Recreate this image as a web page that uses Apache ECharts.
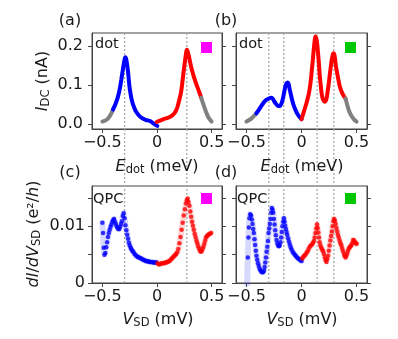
<!DOCTYPE html>
<html><head><meta charset="utf-8">
<script src="https://cdn.jsdelivr.net/npm/echarts@6/dist/echarts.min.js"></script>
<style>html,body{margin:0;padding:0;background:#fff}#c{width:398px;height:339px}</style>
</head><body><div id="c"></div>
<script>
// ---- data ----
const xTicks = [-0.5, 0, 0.5];
const yTicksDot = [0, 0.1, 0.2];
const yLabelsQpc = [0, 0.01];
const yTicksQpc = [0, 0.005, 0.01, 0.015];
const dashA = [-0.297, 0.273];
const dashB = [-0.297, -0.161, 0.142, 0.294];

// (a) dot current, magenta
const aGrayL = [[-0.5,0.007],[-0.479,0.009],[-0.448,0.015],[-0.418,0.028],[-0.403,0.038]];
const aBlue = [[-0.403,0.038],[-0.38,0.052],[-0.357,0.071],[-0.34,0.092],[-0.327,0.114],[-0.31,0.145],[-0.297,0.166],[-0.29,0.172],[-0.282,0.167],[-0.267,0.139],[-0.252,0.097],[-0.24,0.075],[-0.227,0.058],[-0.21,0.044],[-0.191,0.032],[-0.16,0.021],[-0.13,0.015],[-0.1,0.011],[-0.085,0.010],[-0.06,0.008],[-0.04,0.004],[-0.02,0.0],[0.003,-0.004]];
const aRed = [[-0.003,0.006],[0.02,0.009],[0.05,0.012],[0.08,0.015],[0.112,0.018],[0.14,0.023],[0.158,0.028],[0.175,0.036],[0.188,0.045],[0.2,0.058],[0.218,0.079],[0.23,0.102],[0.242,0.131],[0.255,0.16],[0.264,0.178],[0.273,0.191],[0.282,0.186],[0.294,0.172],[0.31,0.15],[0.324,0.135],[0.345,0.115],[0.369,0.096],[0.385,0.084],[0.405,0.068]];
const aGrayR = [[0.405,0.068],[0.42,0.055],[0.445,0.035],[0.47,0.018],[0.5,0.007]];

// (b) dot current, green
const bGrayL = [[-0.5,0.007],[-0.464,0.013],[-0.44,0.019],[-0.41,0.028]];
const bBlue = [[-0.41,0.028],[-0.388,0.037],[-0.358,0.05],[-0.327,0.061],[-0.297,0.066],[-0.276,0.068],[-0.262,0.066],[-0.252,0.061],[-0.236,0.054],[-0.221,0.049],[-0.207,0.047],[-0.197,0.047],[-0.186,0.051],[-0.176,0.058],[-0.165,0.071],[-0.155,0.086],[-0.145,0.099],[-0.136,0.105],[-0.124,0.107],[-0.116,0.102],[-0.109,0.092],[-0.097,0.077],[-0.085,0.062],[-0.07,0.048],[-0.055,0.037],[-0.04,0.028],[-0.024,0.021],[0.0,0.013]];
const bRed = [[0,0.013],[0.01,0.022],[0.021,0.032],[0.033,0.043],[0.045,0.054],[0.056,0.066],[0.067,0.079],[0.078,0.098],[0.088,0.122],[0.096,0.145],[0.103,0.165],[0.109,0.185],[0.115,0.203],[0.121,0.217],[0.127,0.225],[0.133,0.222],[0.142,0.208],[0.15,0.183],[0.158,0.156],[0.165,0.128],[0.173,0.105],[0.18,0.086],[0.188,0.071],[0.198,0.062],[0.211,0.058],[0.22,0.06],[0.229,0.068],[0.238,0.085],[0.248,0.105],[0.259,0.132],[0.27,0.156],[0.279,0.172],[0.29,0.182],[0.297,0.18],[0.304,0.169],[0.313,0.148],[0.324,0.131],[0.336,0.113],[0.348,0.097],[0.36,0.087],[0.37,0.080],[0.385,0.072],[0.4,0.066]];
const bGrayR = [[0.4,0.066],[0.415,0.05],[0.43,0.036],[0.445,0.026],[0.465,0.017],[0.482,0.011],[0.5,0.007]];

// (c) QPC conductance, magenta
const cBlue = [[-0.5,0.0106],[-0.494,0.0088],[-0.488,0.0062],[-0.481,0.0050],[-0.473,0.0053],[-0.465,0.0063],[-0.457,0.0072],[-0.449,0.0081],[-0.441,0.0088],[-0.433,0.0094],[-0.425,0.0099],[-0.417,0.0103],[-0.409,0.0108],[-0.401,0.0111],[-0.393,0.0113],[-0.385,0.0108],[-0.377,0.0104],[-0.369,0.0100],[-0.361,0.0097],[-0.353,0.0095],[-0.345,0.0095],[-0.337,0.0099],[-0.329,0.0104],[-0.321,0.0109],[-0.313,0.0118],[-0.305,0.0123],[-0.297,0.0114],[-0.289,0.0102],[-0.281,0.0093],[-0.273,0.0085],[-0.265,0.0078],[-0.257,0.0071],[-0.249,0.0066],[-0.241,0.0062],[-0.233,0.0059],[-0.225,0.0057],[-0.215,0.0054],[-0.205,0.0051],[-0.195,0.0049],[-0.185,0.0047],[-0.175,0.0046],[-0.165,0.0045],[-0.155,0.0044],[-0.145,0.0043],[-0.135,0.0042],[-0.125,0.0041],[-0.115,0.0040],[-0.105,0.0039],[-0.095,0.0039],[-0.085,0.0038],[-0.075,0.0038],[-0.065,0.0037],[-0.055,0.0037],[-0.045,0.0037],[-0.035,0.0036],[-0.025,0.0036],[-0.015,0.0036],[-0.005,0.0036]];
const cRed = [[0.005,0.0035],[0.015,0.0033],[0.025,0.0033],[0.035,0.0034],[0.045,0.0035],[0.055,0.0035],[0.065,0.0035],[0.075,0.0036],[0.085,0.0036],[0.095,0.0037],[0.105,0.0038],[0.115,0.0039],[0.125,0.0041],[0.135,0.0043],[0.145,0.0045],[0.155,0.0047],[0.165,0.0049],[0.175,0.0051],[0.185,0.0054],[0.195,0.0060],[0.205,0.0070],[0.215,0.0081],[0.225,0.0094],[0.235,0.0106],[0.245,0.0119],[0.255,0.0130],[0.265,0.0140],[0.273,0.0146],[0.281,0.0149],[0.289,0.0143],[0.297,0.0136],[0.305,0.0126],[0.313,0.0117],[0.321,0.0108],[0.329,0.0101],[0.337,0.0094],[0.345,0.0087],[0.353,0.0081],[0.361,0.0075],[0.369,0.0070],[0.377,0.0065],[0.385,0.0061],[0.393,0.0057],[0.401,0.0055],[0.409,0.0056],[0.417,0.0060],[0.425,0.0064],[0.433,0.0069],[0.441,0.0075],[0.449,0.0080],[0.457,0.0083],[0.465,0.0084],[0.475,0.0086],[0.485,0.0087],[0.495,0.0088]];

// (d) QPC conductance, green
const dBandLead = [[-0.496,-0.002]];
const dBlue = [[-0.488,0.0045],[-0.482,0.0080],[-0.478,0.0098],[-0.473,0.0114],[-0.466,0.0121],[-0.458,0.0119],[-0.451,0.0112],[-0.445,0.0104],[-0.439,0.0095],[-0.433,0.0088],[-0.427,0.0077],[-0.421,0.0067],[-0.415,0.0057],[-0.409,0.0048],[-0.402,0.0041],[-0.395,0.0035],[-0.388,0.0030],[-0.380,0.0025],[-0.372,0.0022],[-0.364,0.0020],[-0.356,0.0019],[-0.348,0.0019],[-0.341,0.0022],[-0.335,0.0028],[-0.329,0.0036],[-0.323,0.0045],[-0.317,0.0055],[-0.311,0.0064],[-0.305,0.0074],[-0.299,0.0088],[-0.293,0.0096],[-0.287,0.0104],[-0.281,0.0113],[-0.275,0.0124],[-0.269,0.0132],[-0.263,0.0129],[-0.257,0.0124],[-0.251,0.0113],[-0.245,0.0103],[-0.239,0.0093],[-0.233,0.0084],[-0.226,0.0076],[-0.219,0.0070],[-0.212,0.0066],[-0.205,0.0065],[-0.198,0.0066],[-0.191,0.0072],[-0.185,0.0080],[-0.179,0.0090],[-0.173,0.0100],[-0.166,0.0108],[-0.160,0.0114],[-0.154,0.0108],[-0.148,0.0101],[-0.142,0.0095],[-0.136,0.0090],[-0.130,0.0085],[-0.122,0.0079],[-0.114,0.0073],[-0.106,0.0068],[-0.098,0.0063],[-0.090,0.0059],[-0.080,0.0055],[-0.070,0.0052],[-0.060,0.0050],[-0.050,0.0047],[-0.040,0.0045],[-0.030,0.0043],[-0.020,0.0042],[-0.010,0.0040],[0.000,0.0039]];
const dRed = [[0.006,0.0043],[0.015,0.0046],[0.025,0.0048],[0.035,0.0050],[0.045,0.0053],[0.055,0.0056],[0.065,0.0060],[0.075,0.0064],[0.085,0.0066],[0.095,0.0068],[0.105,0.0071],[0.113,0.0074],[0.120,0.0080],[0.127,0.0088],[0.134,0.0096],[0.141,0.0103],[0.147,0.0097],[0.153,0.0089],[0.159,0.0080],[0.165,0.0072],[0.172,0.0066],[0.180,0.0062],[0.188,0.0059],[0.196,0.0056],[0.204,0.0051],[0.212,0.0045],[0.220,0.0040],[0.227,0.0037],[0.234,0.0042],[0.241,0.0048],[0.248,0.0057],[0.255,0.0066],[0.262,0.0075],[0.269,0.0083],[0.276,0.0091],[0.283,0.0100],[0.290,0.0109],[0.296,0.0113],[0.303,0.0110],[0.310,0.0104],[0.317,0.0097],[0.324,0.0091],[0.331,0.0085],[0.338,0.0080],[0.346,0.0075],[0.354,0.0070],[0.362,0.0066],[0.370,0.0061],[0.378,0.0056],[0.386,0.0051],[0.394,0.0047],[0.401,0.0045],[0.408,0.0048],[0.415,0.0052],[0.422,0.0057],[0.430,0.0061],[0.438,0.0063],[0.446,0.0065],[0.454,0.0067],[0.462,0.0071],[0.470,0.0076],[0.478,0.0075],[0.486,0.0072],[0.494,0.0070],[0.500,0.0069]];

// ---- styling / layout ----
const FONT = 'DejaVu Sans';
const TXT = '#1a1a1a';
const AX = '#444';
const BLUE = '#0000ff', RED = '#ff0000', GRAY = '#808080';
const MAG = '#ff00ff', GRN = '#00c800';
const FS = 16;
const xMin = -0.595, xMax = 0.595;
const grids = [
  {left: 92, top: 33, width: 130, height: 96},
  {left: 236, top: 33, width: 131, height: 96},
  {left: 92, top: 186, width: 130, height: 97},
  {left: 236, top: 186, width: 131, height: 97},
  {left: 92, top: 33, width: 130, height: 250},
  {left: 236, top: 33, width: 131, height: 250}
].map((g, i) => Object.assign({show: i < 4, borderColor: AX, borderWidth: 1, backgroundColor: 'transparent', containLabel: false}, g));

const fmtX = v => v === 0 ? '0' : (v < 0 ? '\u2212' : '') + Math.abs(v).toFixed(1);
const xAxes = [0,1,2,3].map(i => ({
  type: 'value', gridIndex: i, min: xMin, max: xMax,
  axisLine: {show: true, onZero: false, lineStyle: {color: AX}},
  axisTick: {show: true, length: 4, customValues: xTicks, lineStyle: {color: AX}},
  axisLabel: {show: true, customValues: xTicks, formatter: fmtX, fontSize: FS, fontFamily: FONT, color: TXT, margin: 6},
  splitLine: {show: false}
})).concat([4,5].map(i => ({type: 'value', gridIndex: i, min: xMin, max: xMax, show: false})));

const dotRange = {min: -0.012, max: 0.234};
const qpcRange = {min: 0, max: 0.0171};
function yAx(i, range, ticks, labels, showLabels, pos, fmt, margin) {
  return Object.assign({
    type: 'value', gridIndex: i, position: pos,
    axisLine: {show: true, onZero: false, lineStyle: {color: AX}},
    axisTick: {show: true, length: 4, customValues: ticks, lineStyle: {color: AX}},
    axisLabel: {show: showLabels, customValues: labels, formatter: fmt, fontSize: FS, fontFamily: FONT, color: TXT, margin: margin},
    splitLine: {show: false}
  }, range);
}
const fmtDot = v => v.toFixed(1);
const fmtQpc = v => v === 0 ? '0' : '0.01';
const yAxes = [
  yAx(0, dotRange, yTicksDot, yTicksDot, true, 'left', fmtDot, 9),
  yAx(1, dotRange, yTicksDot, yTicksDot, false, 'left', fmtDot, 9),
  yAx(2, qpcRange, yTicksQpc, yLabelsQpc, true, 'left', fmtQpc, 7),
  yAx(3, qpcRange, yTicksQpc, yLabelsQpc, false, 'left', fmtQpc, 7),
  yAx(0, dotRange, yTicksDot, yTicksDot, false, 'right', fmtDot, 8),
  yAx(1, dotRange, yTicksDot, yTicksDot, false, 'right', fmtDot, 8),
  yAx(2, qpcRange, yTicksQpc, yLabelsQpc, false, 'right', fmtQpc, 6),
  yAx(3, qpcRange, yTicksQpc, yLabelsQpc, false, 'right', fmtQpc, 6),
  {type: 'value', gridIndex: 4, min: 0, max: 1, show: false},
  {type: 'value', gridIndex: 5, min: 0, max: 1, show: false}
];

const series = [];
function dash(xs, gi) {
  xs.forEach(v => series.push({
    type: 'line', xAxisIndex: gi, yAxisIndex: 8 + (gi - 4), data: [[v, 0], [v, 1]],
    showSymbol: false, silent: true, z: 1,
    lineStyle: {color: '#a8a8a8', width: 1.3, type: [2, 2]}
  }));
}
dash(dashA, 4);
dash(dashB, 5);
function curve(data, gi, color) {
  series.push({type: 'line', xAxisIndex: gi, yAxisIndex: gi, data: data, showSymbol: false,
    smooth: 0.35, silent: true, z: 3, lineStyle: {color: color, width: 4, cap: 'round'}});
}
curve(aGrayL, 0, GRAY); curve(aBlue, 0, BLUE); curve(aRed, 0, RED); curve(aGrayR, 0, GRAY);
curve(bGrayL, 1, GRAY); curve(bBlue, 1, BLUE); curve(bRed, 1, RED); curve(bGrayR, 1, GRAY);
function band(data, gi, color) {
  series.push({type: 'line', xAxisIndex: gi, yAxisIndex: gi, data: data, showSymbol: false,
    silent: true, z: 2, lineStyle: {color: color, width: 6, cap: 'round', join: 'round'}});
}
function dots(data, gi, color) {
  series.push({type: 'scatter', xAxisIndex: gi, yAxisIndex: gi, data: data, symbolSize: 4.5,
    silent: true, z: 3, itemStyle: {color: color}});
}
band(cBlue, 2, 'rgba(60,60,255,0.2)'); band(cRed, 2, 'rgba(255,60,60,0.2)');
band(dBandLead.concat(dBlue), 3, 'rgba(60,60,255,0.2)'); band(dRed, 3, 'rgba(255,60,60,0.2)');
dots(cBlue, 2, BLUE); dots(cRed, 2, RED);
dots(dBlue, 3, BLUE); dots(dRed, 3, RED);

function txt(x, y, text, opts) {
  return {type: 'text', x: x, y: y, silent: true, z: 10,
    style: Object.assign({text: text, fontFamily: FONT, fontSize: FS, fill: TXT, align: 'center', verticalAlign: 'middle'}, opts || {})};
}
const subRich = {
  i: {fontStyle: 'italic', fontSize: FS, fontFamily: FONT, lineHeight: 19, fill: TXT},
  n: {fontSize: FS, fontFamily: FONT, lineHeight: 19, fill: TXT},
  s: {fontSize: 11.5, fontFamily: FONT, verticalAlign: 'bottom', lineHeight: 12, fill: TXT}
};
const graphics = [
  txt(70, 21, '(a)'), txt(226, 21, '(b)'), txt(70, 173, '(c)'), txt(226, 173, '(d)'),
  txt(95, 44, 'dot', {align: 'left', fontSize: 14.5}), txt(239, 44, 'dot', {align: 'left', fontSize: 14.5}),
  txt(93, 199, 'QPC', {align: 'left', fontSize: 14.5}), txt(237, 199, 'QPC', {align: 'left', fontSize: 14.5}),
  {type: 'rect', shape: {x: 201, y: 42, width: 11, height: 11}, style: {fill: MAG}, z: 10},
  {type: 'rect', shape: {x: 345, y: 42, width: 11, height: 11}, style: {fill: GRN}, z: 10},
  {type: 'rect', shape: {x: 201, y: 193, width: 11, height: 11}, style: {fill: MAG}, z: 10},
  {type: 'rect', shape: {x: 345, y: 193, width: 11, height: 11}, style: {fill: GRN}, z: 10},
  txt(157, 167, '{i|E}{s|dot}{n| (meV)}', {rich: subRich}),
  txt(302, 167, '{i|E}{s|dot}{n| (meV)}', {rich: subRich}),
  txt(158, 320, '{i|V}{s|SD}{n| (mV)}', {rich: subRich}),
  txt(302, 320, '{i|V}{s|SD}{n| (mV)}', {rich: subRich}),
  Object.assign(txt(43, 81, '{i|I}{s|DC}{n| (nA)}', {rich: subRich}), {rotation: Math.PI / 2}),
  Object.assign(txt(34, 234, '{i|dI}{n|/}{i|dV}{s|SD}{n| (e²/}{i|h}{n|)}', {rich: subRich}), {rotation: Math.PI / 2})
];

const chart = echarts.init(document.getElementById('c'), null, {renderer: 'canvas'});
chart.setOption({
  animation: false,
  backgroundColor: '#fff',
  grid: grids, xAxis: xAxes, yAxis: yAxes, series: series, graphic: graphics
});
</script></body></html>
